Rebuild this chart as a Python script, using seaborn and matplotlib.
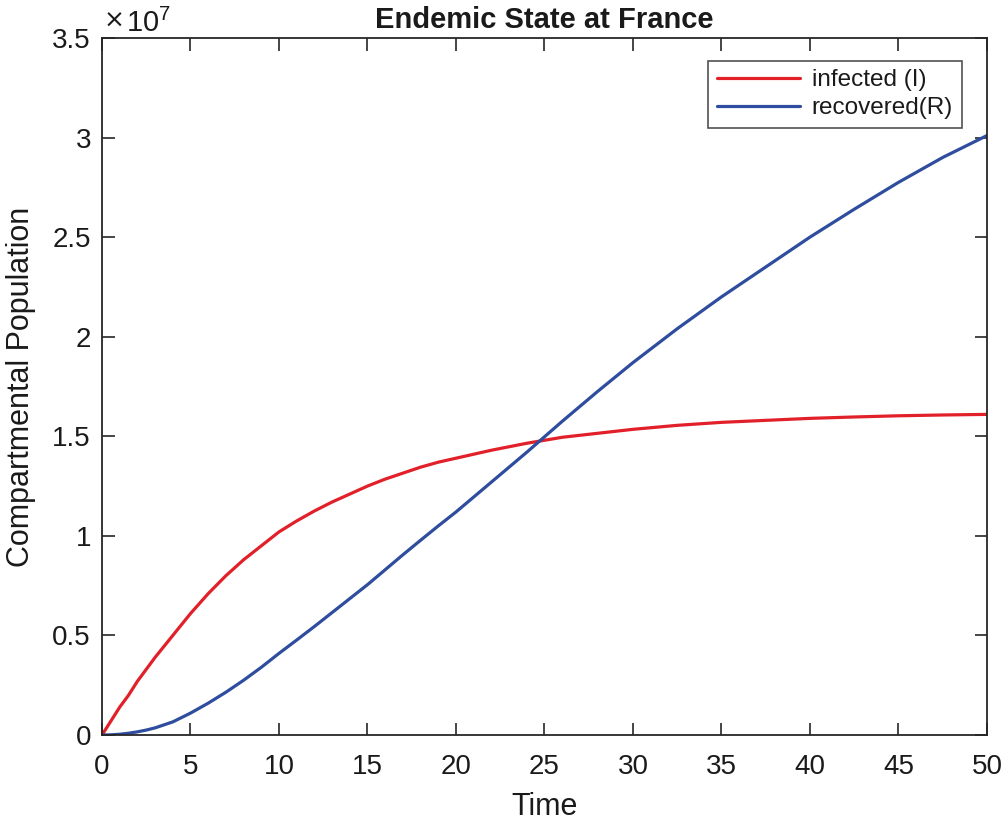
import numpy as np
import pandas as pd
import matplotlib
matplotlib.use("Agg")
import matplotlib.pyplot as plt
from matplotlib.ticker import FuncFormatter, MultipleLocator
import seaborn as sns

# values (population, units of 1e7)
time = [0, 0.5, 1, 1.5, 2, 2.5, 3, 4, 5, 6, 7, 8, 9, 10, 11, 12, 13, 14, 15,
        16, 17, 18, 19, 20, 22, 24, 26, 28, 30, 32.5, 35, 37.5, 40, 42.5,
        45, 47.5, 50]
infected = [0, 0.07, 0.14, 0.2, 0.27, 0.33, 0.39, 0.50, 0.61, 0.71, 0.80,
            0.88, 0.95, 1.02, 1.075, 1.125, 1.17, 1.21, 1.25, 1.285, 1.315,
            1.345, 1.37, 1.39, 1.43, 1.465, 1.495, 1.515, 1.535, 1.555, 1.57,
            1.58, 1.59, 1.597, 1.603, 1.607, 1.61]
recovered = [0, 0.001, 0.004, 0.009, 0.016, 0.025, 0.036, 0.066, 0.11, 0.16,
             0.215, 0.275, 0.34, 0.41, 0.477, 0.545, 0.615, 0.685, 0.755,
             0.83, 0.905, 0.978, 1.05, 1.12, 1.27, 1.42, 1.575, 1.725, 1.87,
             2.04, 2.2, 2.35, 2.5, 2.64, 2.775, 2.9, 3.01]
series_names = ['infected (I)', 'recovered(R)']
colors = ['#e2202a', '#2f4d9e']

df = pd.DataFrame({
    'Time': time * 2,
    'Population': np.array(infected + recovered) * 1e7,
    'series': [series_names[0]] * len(time) + [series_names[1]] * len(time),
})

sns.set_style('ticks')
plt.rcParams['font.family'] = ['Liberation Sans', 'DejaVu Sans']
plt.rcParams['mathtext.fontset'] = 'custom'
plt.rcParams['mathtext.rm'] = 'Liberation Sans'
plt.rcParams['mathtext.it'] = 'Liberation Sans:italic'
plt.rcParams['axes.edgecolor'] = '#262626'
txt = '#1a1a1a'

fig = plt.figure(figsize=(10.03, 8.22), dpi=100)
ax = fig.add_axes([0.1017, 0.1058, 0.8823, 0.848])

sns.lineplot(data=df, x='Time', y='Population', hue='series',
             palette=colors, linewidth=2.3, ax=ax)

ax.set_xlim(0, 50)
ax.set_ylim(0, 3.5e7)
ax.xaxis.set_major_locator(MultipleLocator(5))
ax.yaxis.set_major_locator(MultipleLocator(0.5e7))
ax.yaxis.set_major_formatter(FuncFormatter(lambda v, _: f'{v / 1e7:g}'))
ax.tick_params(direction='in', length=9, width=1.2, top=True, right=True,
               labelsize=20, color='#262626', labelcolor=txt, pad=8)
ax.tick_params(axis='x', pad=14)
for s in ax.spines.values():
    s.set_linewidth(1.3)
    s.set_visible(True)

ax.set_xlabel('Time', fontsize=22, color=txt, labelpad=8)
ax.set_ylabel('Compartmental Population', fontsize=22, color=txt, labelpad=12)
ax.set_title('Endemic State at France', fontsize=21, fontweight='bold',
             color=txt, pad=7)

# x10^7 multiplier at the top-left corner
ax.text(0.002, 1.008, '×', family='DejaVu Sans', fontsize=18, va='bottom',
        ha='left', color=txt, transform=ax.transAxes)
ax.text(0.027, 1.0, r'$10^{7}$', transform=ax.transAxes,
        fontsize=21, va='bottom', ha='left', color=txt)

leg = ax.legend(loc='upper right', bbox_to_anchor=(0.985, 0.985), fontsize=17.5,
                frameon=True, fancybox=False, edgecolor='#262626',
                handlelength=3.4, borderpad=0.35, labelspacing=0.25,
                handletextpad=0.5)
leg.get_frame().set_linewidth(1.2)
for t in leg.get_texts():
    t.set_color(txt)

fig.savefig('out.png', dpi=100)
